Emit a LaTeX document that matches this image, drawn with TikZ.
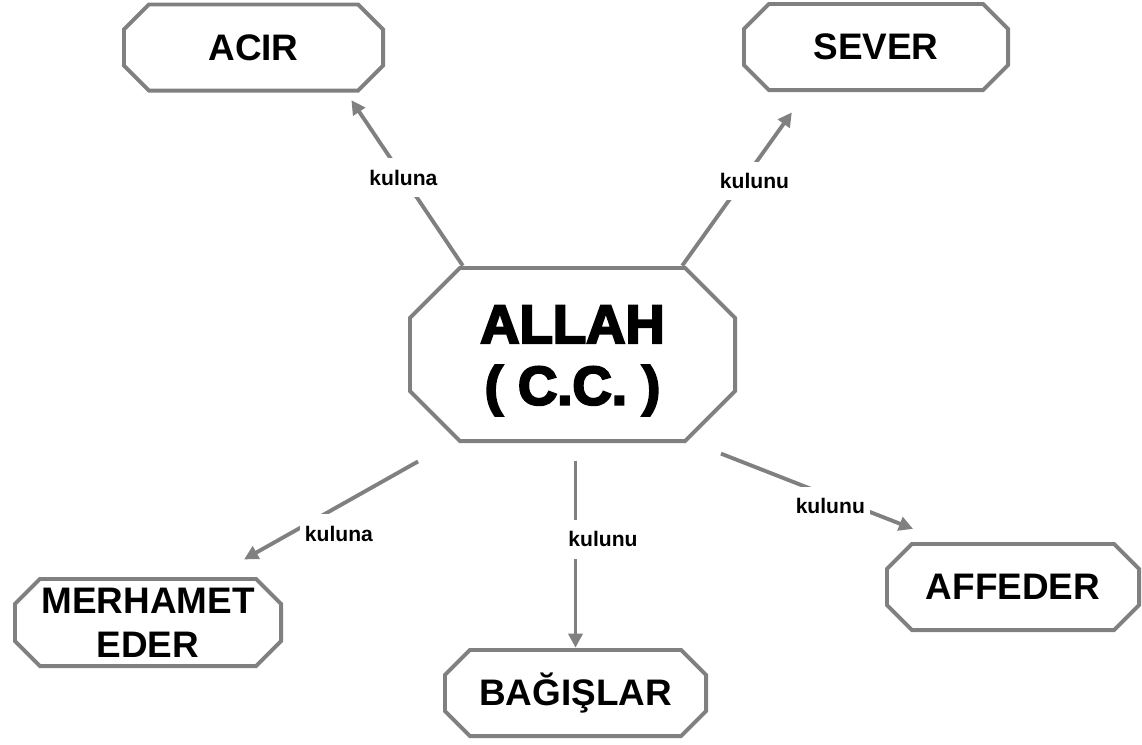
\documentclass[tikz,border=0pt]{standalone}
\usepackage{fontspec}
\setmainfont{Liberation Sans}
\newfontfamily\heavyfont[FakeBold=4]{Liberation Sans Bold}
\usetikzlibrary{arrows.meta}

\tikzset{
    box/.style={rectangle, fill=white, inner sep=0pt, align=center,
        minimum width=5.3cm, minimum height=1.8cm,
        font=\fontsize{21}{25}\selectfont\bfseries,
        path picture={
            \draw[gray, line width=2.2pt]
                ([shift={(#1,-1.1pt)}]path picture bounding box.north west)
             -- ([shift={(-#1,-1.1pt)}]path picture bounding box.north east)
             -- ([shift={(-1.1pt,-#1)}]path picture bounding box.north east)
             -- ([shift={(-1.1pt,#1)}]path picture bounding box.south east)
             -- ([shift={(-#1,1.1pt)}]path picture bounding box.south east)
             -- ([shift={(#1,1.1pt)}]path picture bounding box.south west)
             -- ([shift={(1.1pt,#1)}]path picture bounding box.south west)
             -- ([shift={(1.1pt,-#1)}]path picture bounding box.north west)
             -- cycle;
        }},
    box/.default=0.54cm,
    lbl/.style={fill=white, inner xsep=3pt, inner ysep=6.5pt,
        font=\fontsize{12}{14}\selectfont\bfseries},
    link/.style={draw=gray, line width=2.2pt, -{Triangle[length=8pt, width=8pt]}}
}

\begin{document}
\begin{tikzpicture}
    \useasboundingbox (0,0) rectangle (22.84,-14.88);

    \node[box=1.04cm, minimum width=6.58cm, minimum height=3.54cm,
        font=\fontsize{31}{35}\heavyfont] (allah) at (11.45,-7.09)
        {\raisebox{-4pt}[\height][\depth]{\begin{tabular}{@{}c@{}}ALLAH\\( C.C. )\end{tabular}}};
    \node[box, minimum width=5.26cm] (acir) at (5.07,-0.95) {ACIR};
    \node[box, minimum width=5.36cm] (sever) at (17.52,-0.94) {SEVER};
    \node[box, minimum width=5.4cm, minimum height=1.82cm] (merhamet) at (2.96,-12.45) {MERHAMET\\EDER};
    \node[box] (bagislar) at (11.51,-13.86) {BAĞIŞLAR};
    \node[box, minimum width=5.12cm] (affeder) at (20.26,-11.74) {AFFEDER};

    \path
        (allah.141) edge[link, shorten >=5pt] node[lbl, pos=0.51] {kuluna} (acir.-26)
        (allah.39) edge[link, shorten >=14pt] node[lbl, pos=0.49, xshift=0.23cm] {kulunu} (sever.213)
        (allah.216) edge[link, shorten <=21pt, shorten >=20pt] node[lbl, pos=0.47, yshift=-0.55cm] {kuluna} (merhamet.35)
        (allah.south -| bagislar.north) edge[link, shorten <=10pt] node[lbl, pos=0.47, xshift=0.55cm] {kulunu} (bagislar.north)
        (allah.-36) edge[link, shorten <=16pt, shorten >=20pt] node[lbl, pos=0.54, yshift=-0.2cm] {kulunu} (affeder.146);
\end{tikzpicture}
\end{document}
